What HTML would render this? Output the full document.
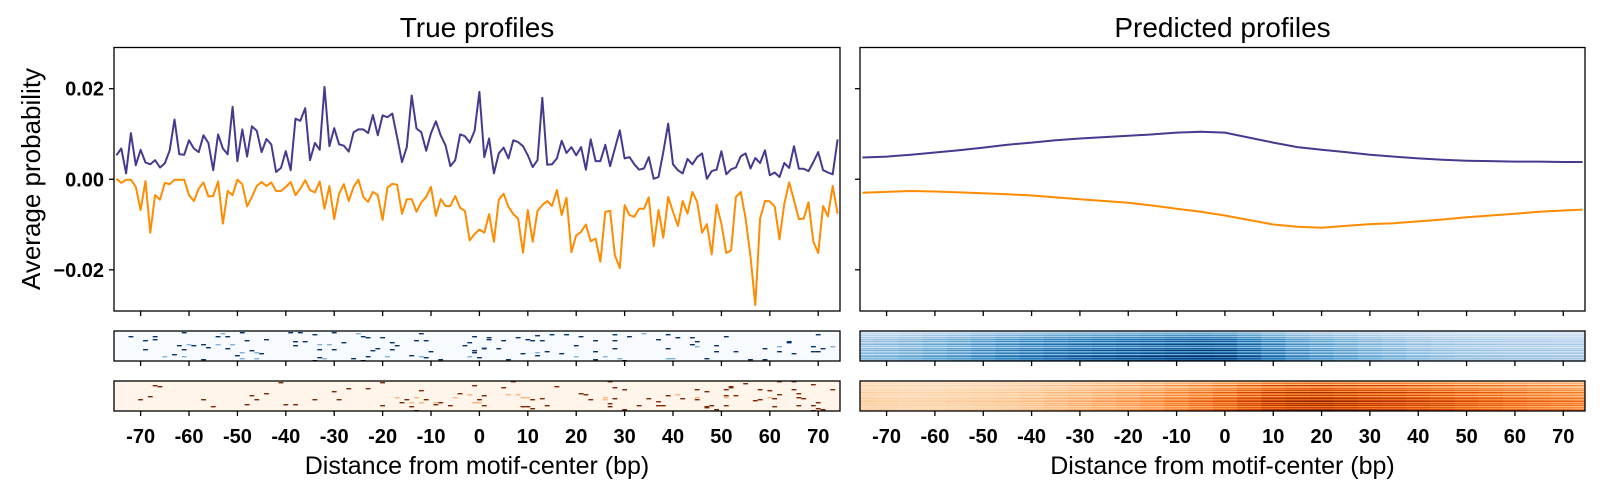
<!DOCTYPE html>
<html><head><meta charset="utf-8"><style>
html,body{margin:0;padding:0;background:#fff;}
svg{display:block;font-family:"Liberation Sans",sans-serif;}
</style></head><body>
<svg id="fig" width="1600" height="492" viewBox="0 0 1600 492" xmlns="http://www.w3.org/2000/svg">
<g id="layer"></g>
</svg>
<script>
// ---- data ----
const bp = Array.from({length:150},(_,i)=>i-75);
const trueBlue = [5.3,6.8,1.3,10.2,3.1,6.5,3.7,3.3,4.2,2.6,3.5,6.4,13.2,5.5,5.4,8.6,6.8,6,9.7,8,2,9.9,6.8,5.5,16,4,11,5,11.7,10.7,6,8.9,7.7,1.6,2.5,6.2,2,13.4,12.9,15.7,4.2,8,6.5,20.4,7.3,11.3,7.7,7.4,6.1,10.4,11,11,10.2,14.2,9.7,14.1,13.7,14.5,9.3,3.8,7.1,18.5,11.2,10.4,6.3,10.2,12.8,9.7,7.5,2.9,4.2,9.9,9.5,8.1,10.7,19.3,4.9,9,1.3,5.7,
7,4.6,8.6,8.2,7.3,5.3,2.7,4.2,18,3.2,3.3,4.6,8.5,5.8,7.1,5.3,7.1,2.1,8.8,4,4,7.6,2.9,6.8,10.8,4.6,4.9,3.3,2.1,2.4,4.9,0.1,0.5,6,12.3,3.3,2,1.3,4.5,3.3,4.9,5.7,0.1,1.8,2.1,6.2,1.1,2.2,2.6,5.1,5.7,2.4,4.7,3.6,6.4,0.9,1.5,0.5,3.6,2.5,7.3,2.3,2.3,1.8,3.8,6,2,1.5,1.1,8.8];
const trueOrange = [0.1,-0.8,-0.1,-0.1,-1.7,-6.8,-0.4,-11.8,-3.5,-4.5,-0.8,-1.1,-0.1,-0.1,-0.1,-3.5,-4.8,-2.1,-0.7,-3.8,-3.7,-0.5,-9.8,-2.6,-3.5,-0.1,-1.1,-6,-3.9,-1.5,-0.6,-1.5,-0.7,-2.6,-2.6,-1.7,-0.6,-3.5,-2.1,-0.2,-2.4,-2.9,-0.5,-6.5,-1.5,-8.8,-3.2,-1.1,-4.8,-1.7,-0.1,-3.9,-5,-2.8,-3.5,-9,-1.8,-1,-1.2,-7.6,-4.4,-4.4,-7.2,-5.1,-3.9,-1.7,-8.1,-4.4,-5.9,-5.9,-3.7,-6.3,-7,-13.5,-12.1,-11.1,-11.8,-7.7,-13.8,-4.5,
-3.2,-6.1,-7.7,-8.7,-16.2,-6.8,-13.8,-7,-5.7,-4.8,-5.9,-2.4,-7.9,-4.1,-16.1,-12.4,-11.6,-10,-13.7,-13.1,-18.2,-7.2,-7,-16.8,-19.6,-5.7,-7.9,-8.3,-6.5,-6.5,-4,-14.8,-6.8,-12.9,-3.9,-7.2,-10.3,-4.8,-7.6,-2.8,-5,-11.8,-9.9,-16.6,-5.6,-9.8,-16.3,-15.7,-3.9,-2.8,-8.7,-17.1,-27.8,-8.7,-4.8,-4.9,-6,-13.3,-5.4,-0.7,-4.6,-8.8,-8.7,-5.1,-13.8,-16.3,-5.9,-8.2,-1.5,-7.6];
const predBp = [-75,-70,-65,-60,-55,-50,-45,-40,-35,-30,-25,-20,-15,-10,-5,0,5,10,15,20,25,30,35,40,45,50,55,60,65,70,74];
const predBlue = [4.8,5.0,5.4,5.9,6.4,7.0,7.6,8.1,8.6,9.0,9.3,9.6,9.9,10.3,10.5,10.3,9.2,8.1,7.1,6.5,6.0,5.4,5.0,4.6,4.3,4.1,4.0,3.9,3.9,3.8,3.8];
const predOrange = [-3.0,-2.8,-2.6,-2.7,-2.9,-3.1,-3.3,-3.6,-4.0,-4.4,-4.8,-5.2,-5.8,-6.5,-7.2,-8.0,-9.0,-10.0,-10.5,-10.7,-10.3,-9.9,-9.7,-9.3,-8.9,-8.4,-8.0,-7.6,-7.2,-6.9,-6.7];
const rowBlue = [0.35,0.5,0.7,0.6,0.9,0.55,1.0,0.75,1.15,0.8,1.25,0.7,1.0,1.35,0.8,1.1,0.6,1.25,0.95,1.45,0.8,1.1,1.35,0.7,1.25,1.5,0.95,1.35,1.1,1.3];
const rowOrange = [0.45,0.6,0.9,0.5,1.25,0.75,0.6,1.0,0.85,1.15,0.7,1.35,0.95,0.8,1.25,0.7,1.1,1.35,0.95,1.2,1.45,0.9,1.25,1.05,1.35,0.8,1.2,0.95,1.35,1.45];
// sparse true-count cells: [bp, row, light?]
const blueHits = [[-72,5,0],[-67,5,0],[-69,9,0],[-67,8,0],[-61,1,0],[-49,1,0],[-54,5,0],[-53,2,1],[-52,5,0],[-48,9,0],[-44,8,0],[-39,1,0],[-37,1,0],[-34,3,0],[-30,1,0],[-25,2,1],[-24,5,0],[-23,6,0],[-20,6,0],[-12,2,0],[-13,9,0],[-11,9,0],[-1,5,0],[2,6,0],[2,8,0],[4,17,0],[-69,18,0],[-62,14,0],[-60,13,1],[-57,13,0],[-61,18,0],[-59,14,0],[-56,16,0],[-54,13,1],[-52,17,0],[-51,13,1],[-65,25,1],[-63,23,0],[-61,25,1],[-50,24,0],[-49,21,1],[-49,27,1],[-47,19,0],[-46,21,1],[-45,22,0],[-46,27,1],[-38,10,0],[-36,10,0],[-38,14,0],[-33,13,1],[-31,13,1],[-33,18,0],[-30,18,0],[-28,11,0],[-33,26,0],[-32,27,1],[-34,29,0],[-26,27,0],[-24,29,0],[-23,25,0],[-22,19,0],[-21,17,0],[-19,25,1],[-18,11,0],[-17,14,0],[-18,18,0],[-14,24,0],[-12,25,1],[-10,20,0],[-11,26,0],[-8,28,0],[-3,14,0],[-2,11,0],[-1,19,0],[-1,21,0],[-2,25,1],[0,26,0],[1,16,1],[1,17,0],[-57,28,0],
[5,9,0],[8,6,0],[10,8,0],[11,9,0],[12,4,0],[13,9,0],[15,3,0],[18,3,0],[20,14,0],[21,5,0],[24,9,0],[24,20,0],[28,3,0],[28,9,0],[28,17,0],[31,5,0],[34,2,1],[37,8,0],[39,3,0],[39,17,0],[41,6,0],[44,6,0],[44,13,0],[45,10,0],[45,15,1],[49,14,0],[49,20,0],[51,5,0],[53,20,0],[59,17,0],[56,28,0],[59,28,0],[64,10,0],[64,11,0],[62,15,1],[62,20,0],[65,22,0],[69,15,0],[70,3,0],[69,20,0],[71,17,0],[73,15,1],[70,20,0],[39,27,1],[40,27,1],[47,27,0],[20,25,1],[26,25,1],[29,27,1],[30,29,0],[24,28,0],[6,28,0],[9,22,0],[12,24,0],[14,20,0],[17,22,0],[12,21,1]];
const orangeHits = [[-67,4,0],[-66,5,0],[-68,15,0],[-70,18,0],[-57,18,0],[-55,25,0],[-41,1,0],[-47,14,0],[-44,12,0],[-46,18,0],[-48,23,0],[-40,23,0],[-38,23,0],[-34,18,0],[-30,10,0],[-27,7,0],[-23,7,0],[-29,18,0],[-20,1,0],[-20,24,0],[-17,16,1],[-15,18,0],[-13,16,1],[-16,21,0],[-14,21,1],[-12,21,1],[-11,18,0],[-12,9,0],[-14,25,0],[-13,29,0],[-9,21,1],[-9,23,0],[-8,21,0],[-6,24,0],[-5,16,1],[-4,12,0],[-2,13,1],[-1,4,0],[0,18,0],[1,14,0],[1,24,0],[-1,21,1],[0,21,1],
[7,0,0],[5,6,0],[6,13,1],[8,13,1],[9,16,1],[10,16,1],[11,18,0],[13,17,0],[9,25,0],[10,25,0],[11,27,0],[14,24,0],[16,5,0],[21,12,0],[22,13,0],[23,18,0],[26,16,1],[26,18,1],[27,0,0],[28,6,0],[28,17,0],[27,22,0],[27,25,0],[30,8,0],[30,28,0],[33,24,0],[35,17,0],[37,20,0],[37,24,0],[38,24,0],[39,14,0],[41,13,1],[42,17,0],[45,8,0],[45,16,1],[45,18,0],[47,10,0],[47,25,0],[47,26,0],[48,24,0],[51,8,0],[51,14,0],[51,16,1],[51,24,0],[52,5,0],[52,6,0],[53,14,0],[49,28,0],[55,2,0],[57,19,0],[58,18,0],[58,8,0],[60,9,0],[60,16,1],[61,17,0],[61,25,0],[62,0,0],[62,13,0],[65,0,0],[65,8,0],[66,12,0],[66,16,0],[67,17,0],[66,24,0],[69,3,0],[69,24,0],[70,27,0],[71,28,0],[69,29,0],[70,21,0],[73,8,0]];
const yTicks = [-0.02,0,0.02];
const yTickLabels = ["\u22120.02","0.00","0.02"];
const xTicks = [-70,-60,-50,-40,-30,-20,-10,0,10,20,30,40,50,60,70];

// ---- layout ----
const NS="http://www.w3.org/2000/svg";
const L=document.getElementById('layer');
function mk(tag,attrs,parent){const e=document.createElementNS(NS,tag);for(const k in attrs)e.setAttribute(k,attrs[k]);(parent||L).appendChild(e);return e;}
const panels=[{x0:114,x1:840,name:'true'},{x0:860,x1:1585,name:'predicted'}];
const mainTop=47.5, mainBot=311, hm1=[331,361], hm2=[381,411];
const XMIN=-75.5, XMAX=74.5, YMIN=-0.0291, YMAX=0.0291;
function sx(p,v){return p.x0+(v-XMIN)/(XMAX-XMIN)*(p.x1-p.x0);}
function sy(v){return mainBot-(v-YMIN)/(YMAX-YMIN)*(mainBot-mainTop);}
function lerpC(stops,t){t=Math.max(0,Math.min(1,t));const n=stops.length-1;const i=Math.min(n-1,Math.floor(t*n));const f=t*n-i;const a=stops[i],b=stops[i+1];return 'rgb('+[0,1,2].map(k=>Math.round(a[k]+(b[k]-a[k])*f)).join(',')+')';}
const blues=[[247,251,255],[198,219,239],[107,174,214],[33,113,181],[8,48,107]];
const oranges=[[255,245,235],[253,208,162],[253,141,60],[217,72,1],[127,39,4]];

panels.forEach((p,pi)=>{
  const t=mk('text',{x:(p.x0+p.x1)/2,y:37,'text-anchor':'middle','font-size':28,fill:'#000'});
  t.textContent= pi===0?'True profiles':'Predicted profiles';
  
  
  let xs,b,o;
  if(pi===0){xs=bp;b=trueBlue;o=trueOrange;}else{xs=predBp;b=predBlue;o=predOrange;}
  const lb=mk('polyline',{points:xs.map((x,i)=>sx(p,x).toFixed(1)+','+sy(b[i]/1000).toFixed(1)).join(' '),fill:'none',stroke:'#453a8f','stroke-width':2,'stroke-linejoin':'round'});
  
  
  const lo=mk('polyline',{points:xs.map((x,i)=>sx(p,x).toFixed(1)+','+sy(o[i]/1000).toFixed(1)).join(' '),fill:'none',stroke:'#ff8c00','stroke-width':2,'stroke-linejoin':'round'});
  
  
  const fr=mk('rect',{x:p.x0,y:mainTop,width:p.x1-p.x0,height:mainBot-mainTop,fill:'none',stroke:'#000','stroke-width':1.3});
  
  
  yTicks.forEach((v,i)=>{
    const tk=mk('line',{x1:p.x0-5,x2:p.x0,y1:sy(v),y2:sy(v),stroke:'#000','stroke-width':1.3});
    
    
    if(pi===0){
      const tl=mk('text',{x:p.x0-10,y:sy(v)+7,'text-anchor':'end','font-size':20,'font-weight':'bold'});
      tl.textContent=yTickLabels[i];
      
      
    }
  });
  [[hm1,'blue'],[hm2,'orange']].forEach(([hm,col])=>{
    const g=mk('g',{});
    
    
    const bg=col==='blue'?'#f7fbff':'#fff5eb';
    mk('rect',{x:p.x0,y:hm[0],width:p.x1-p.x0,height:hm[1]-hm[0],fill:bg},g);
    const rh=(hm[1]-hm[0])/30;
    if(pi===0){
      const hits=col==='blue'?blueHits:orangeHits;
      hits.forEach(h=>{
        const c = col==='blue'?(h[2]?'#7fb3d9':'#08306b'):(h[2]?'#fdb57a':'#7f2704');
        const r=mk('rect',{x:sx(p,h[0]-0.5),y:hm[0]+h[1]*rh,width:sx(p,h[0]+0.5)-sx(p,h[0]-0.5),height:rh+0.4,fill:c},g);
        
        
      });
    } else {
      const vals=col==='blue'?predBlue:predOrange;
      const rows=col==='blue'?rowBlue:rowOrange;
      const mx=Math.max(...vals.map(Math.abs));
      for(let j=0;j<predBp.length;j++){
        const a=j===0?XMIN:(predBp[j-1]+predBp[j])/2;
        const bb=j===predBp.length-1?XMAX:(predBp[j]+predBp[j+1])/2;
        rows.forEach((rf,ri)=>{
          const t=Math.abs(vals[j])/mx*rf*(col==='blue'?0.7:0.68);
          const r=mk('rect',{x:sx(p,a),y:hm[0]+ri*rh,width:sx(p,bb)-sx(p,a)+0.5,height:rh+0.3,fill:lerpC(col==='blue'?blues:oranges,t)},g);
          
          
        });
      }
    }
    mk('rect',{x:p.x0,y:hm[0],width:p.x1-p.x0,height:hm[1]-hm[0],fill:'none',stroke:'#000','stroke-width':1.3},g);
  });
  xTicks.forEach(v=>{
    [mainBot,hm1[1],hm2[1]].forEach(yb=>{
      const tk=mk('line',{x1:sx(p,v),x2:sx(p,v),y1:yb,y2:yb+5,stroke:'#000','stroke-width':1.3});
      
      
    });
    const tl=mk('text',{x:sx(p,v),y:443,'text-anchor':'middle','font-size':20,'font-weight':'bold'});
    tl.textContent=v<0?'-'+Math.abs(v):String(v);
    
    
  });
  const xl=mk('text',{x:(p.x0+p.x1)/2,y:474,'text-anchor':'middle','font-size':25});
  xl.textContent='Distance from motif-center (bp)';
  
  
});
const yl=mk('text',{x:0,y:0,'text-anchor':'middle','font-size':26,transform:'translate(40,179) rotate(-90)'});
yl.textContent='Average probability';


</script>
</body></html>
